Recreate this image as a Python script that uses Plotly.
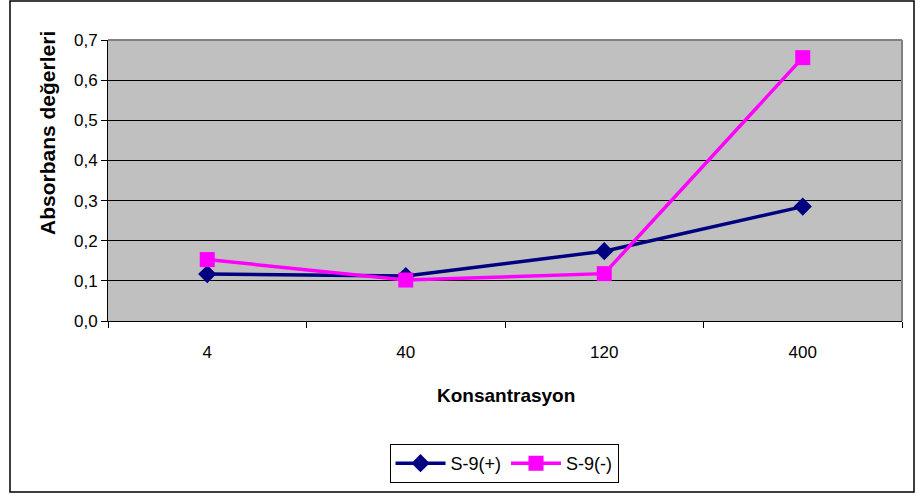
import plotly.graph_objects as go

categories = ["4", "40", "120", "400"]
s9_plus = [0.117, 0.112, 0.174, 0.285]
s9_minus = [0.153, 0.102, 0.118, 0.656]
y_ticks = [0.0, 0.1, 0.2, 0.3, 0.4, 0.5, 0.6, 0.7]

W, H = 916, 499
L, R, T, B = 108, 902, 40, 321
pw, ph = R - L, B - T

def px(x):
    return (x - L) / pw

def py(y):
    return (B - y) / ph

fig = go.Figure()
fig.add_trace(go.Scatter(
    x=categories, y=s9_plus, name="S-9(+)", mode="lines+markers",
    line=dict(color="#000080", width=3.5),
    marker=dict(symbol="diamond", size=14, color="#000080"),
))
fig.add_trace(go.Scatter(
    x=categories, y=s9_minus, name="S-9(-)", mode="lines+markers",
    line=dict(color="#FF00FF", width=3.5),
    marker=dict(symbol="square", size=15, color="#FF00FF"),
))

font = "Liberation Sans, Arial, sans-serif"

fig.update_layout(
    width=W, height=H,
    margin=dict(l=L, r=W - R, t=T, b=H - B, autoexpand=False),
    paper_bgcolor="white",
    plot_bgcolor="#C0C0C0",
    separators=",.",
    font=dict(family=font, color="black", size=17),
    showlegend=True,
    legend=dict(
        orientation="h", x=px(504), y=py(444), xanchor="center", yanchor="top",
        bordercolor="black", borderwidth=1, bgcolor="white",
        font=dict(size=18, family=font), tracegroupgap=0, itemwidth=50,
    ),
    xaxis=dict(
        type="category", showgrid=False, showline=True, linecolor="black", linewidth=1,
        ticks="outside", ticklen=6, tickcolor="black", tickson="boundaries",
        tickfont=dict(size=17, family=font), ticklabelstandoff=16, range=[-0.5, 3.5],
        zeroline=False,
    ),
    yaxis=dict(
        range=[0, 0.7], tickvals=y_ticks, tickformat=".1f",
        showgrid=True, gridcolor="black", gridwidth=1,
        showline=True, linecolor="black", linewidth=1,
        ticks="outside", ticklen=6, tickcolor="black",
        tickfont=dict(size=17, family=font), zeroline=False,
    ),
    shapes=[
        dict(type="line", xref="paper", yref="paper", x0=0, x1=1, y0=1, y1=1,
             line=dict(color="#808080", width=2), layer="above"),
        dict(type="line", xref="paper", yref="paper", x0=1, x1=1, y0=0, y1=1,
             line=dict(color="#808080", width=2), layer="above"),
        dict(type="rect", xref="paper", yref="paper", x0=px(10), x1=px(914),
             y0=py(492), y1=py(1), line=dict(color="black", width=1.5),
             fillcolor="rgba(0,0,0,0)", layer="above"),
    ],
    annotations=[
        dict(text="<b>Konsantrasyon</b>", xref="paper", yref="paper",
             x=px(506), y=py(395), xanchor="center", yanchor="middle",
             showarrow=False, font=dict(size=19, family=font)),
        dict(text="<b>Absorbans değerleri</b>", xref="paper", yref="paper",
             x=px(47), y=py(133), xanchor="center", yanchor="middle", textangle=-90,
             showarrow=False, font=dict(size=21, family=font)),
    ],
)

fig.write_html(
    "out.html",
    config={"displayModeBar": False},
    post_script="document.body.style.margin='0';document.body.style.overflow='hidden';",
)
